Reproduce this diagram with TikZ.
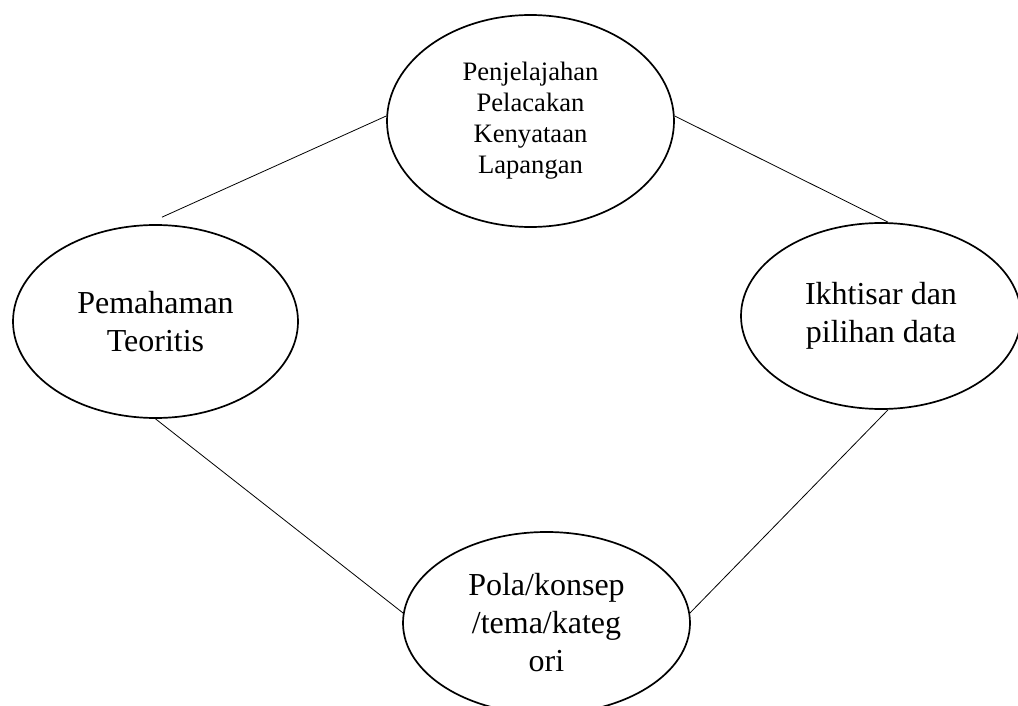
\documentclass[tikz,border=0pt]{standalone}
\usepackage{fontspec}
\setmainfont{Liberation Serif}
\usetikzlibrary{shapes.geometric}
\tikzset{
  ell/.style={ellipse, draw=black, line width=1.7pt, inner sep=0pt, align=center},
  big/.style={font=\fontsize{32}{38}\selectfont},
  small/.style={font=\fontsize{26.6}{31}\selectfont},
  conn/.style={draw=black, line width=0.8pt}
}
\begin{document}
\begin{tikzpicture}[x=1pt,y=-1pt]
\useasboundingbox (0,0) rectangle (1018,706);
\node[ell, small, minimum width=287pt, minimum height=212pt] (top) at (530.5,121)
  {Penjelajahan\\Pelacakan\\Kenyataan\\Lapangan};
\node[ell, big, minimum width=285pt, minimum height=193pt] (left) at (155.5,321.5)
  {Pemahaman\\Teoritis};
\node[ell, big, minimum width=280pt, minimum height=186pt] (right) at (881,316)
  {Ikhtisar dan\\pilihan data};
\node[ell, big, minimum width=287pt, minimum height=182pt] (bottom) at (546.5,623)
  {Pola/konsep\\/tema/kateg\\ori};
\draw[conn] ([shift={(6.5,-7)}]left.north) -- (top.178);
\draw[conn] (top.2) -- ([xshift=7pt]right.north);
\draw[conn] (left.south) -- (bottom.176);
\draw[conn] ([xshift=7pt]right.south) -- (bottom.4);
\end{tikzpicture}
\end{document}
